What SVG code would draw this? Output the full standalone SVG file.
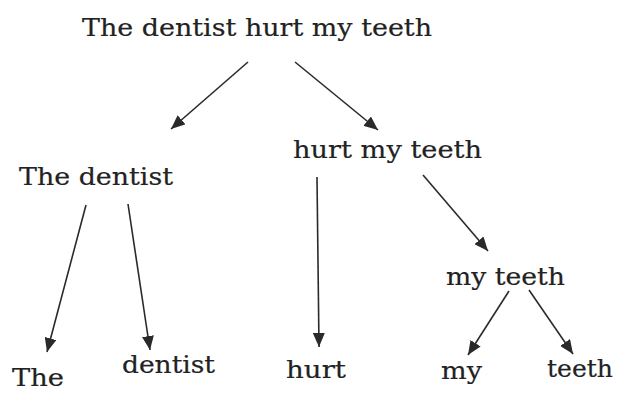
<svg xmlns="http://www.w3.org/2000/svg" width="617" height="393" viewBox="0 0 617 393">
<style>
text{font-family:"DejaVu Serif","Liberation Serif",serif;font-size:24.5px;fill:#222;stroke:#222;stroke-width:0.2}
.c line{stroke:#2a2a2a;stroke-width:1.6;marker-end:url(#ah)}
</style>
<defs>
<marker id="ah" viewBox="0 0 14 12" refX="14" refY="6" markerWidth="14" markerHeight="12" markerUnits="userSpaceOnUse" orient="auto">
<path d="M0,0 L14,6 L0,12 z" fill="#2a2a2a"/>
</marker>
</defs>
<rect width="617" height="393" fill="#fff"/>
<g id="n-root"><text x="82" y="36" textLength="350" lengthAdjust="spacingAndGlyphs">The dentist hurt my teeth</text></g>
<g id="n-np"><text x="19" y="185" textLength="154" lengthAdjust="spacingAndGlyphs">The dentist</text></g>
<g id="n-vp"><text x="293" y="158" textLength="189" lengthAdjust="spacingAndGlyphs">hurt my teeth</text></g>
<g id="n-np2"><text x="446" y="285" textLength="119" lengthAdjust="spacingAndGlyphs">my teeth</text></g>
<g id="n-the"><text x="12" y="386" textLength="52" lengthAdjust="spacingAndGlyphs">The</text></g>
<g id="n-dentist"><text x="122" y="373" textLength="93" lengthAdjust="spacingAndGlyphs">dentist</text></g>
<g id="n-hurt"><text x="286" y="378" textLength="60" lengthAdjust="spacingAndGlyphs">hurt</text></g>
<g id="n-my"><text x="441" y="379" textLength="41" lengthAdjust="spacingAndGlyphs">my</text></g>
<g id="n-teeth"><text x="547" y="377" textLength="66" lengthAdjust="spacingAndGlyphs">teeth</text></g>
<g class="c" id="connectors">
<line x1="248" y1="62" x2="171" y2="129"/>
<line x1="295" y1="62" x2="378" y2="130"/>
<line x1="86" y1="205" x2="47" y2="352"/>
<line x1="128" y1="204" x2="150" y2="350"/>
<line x1="317" y1="177" x2="319" y2="347"/>
<line x1="423" y1="175" x2="488" y2="251"/>
<line x1="509" y1="291" x2="468" y2="355"/>
<line x1="529" y1="290" x2="573" y2="354"/>
</g>
</svg>
